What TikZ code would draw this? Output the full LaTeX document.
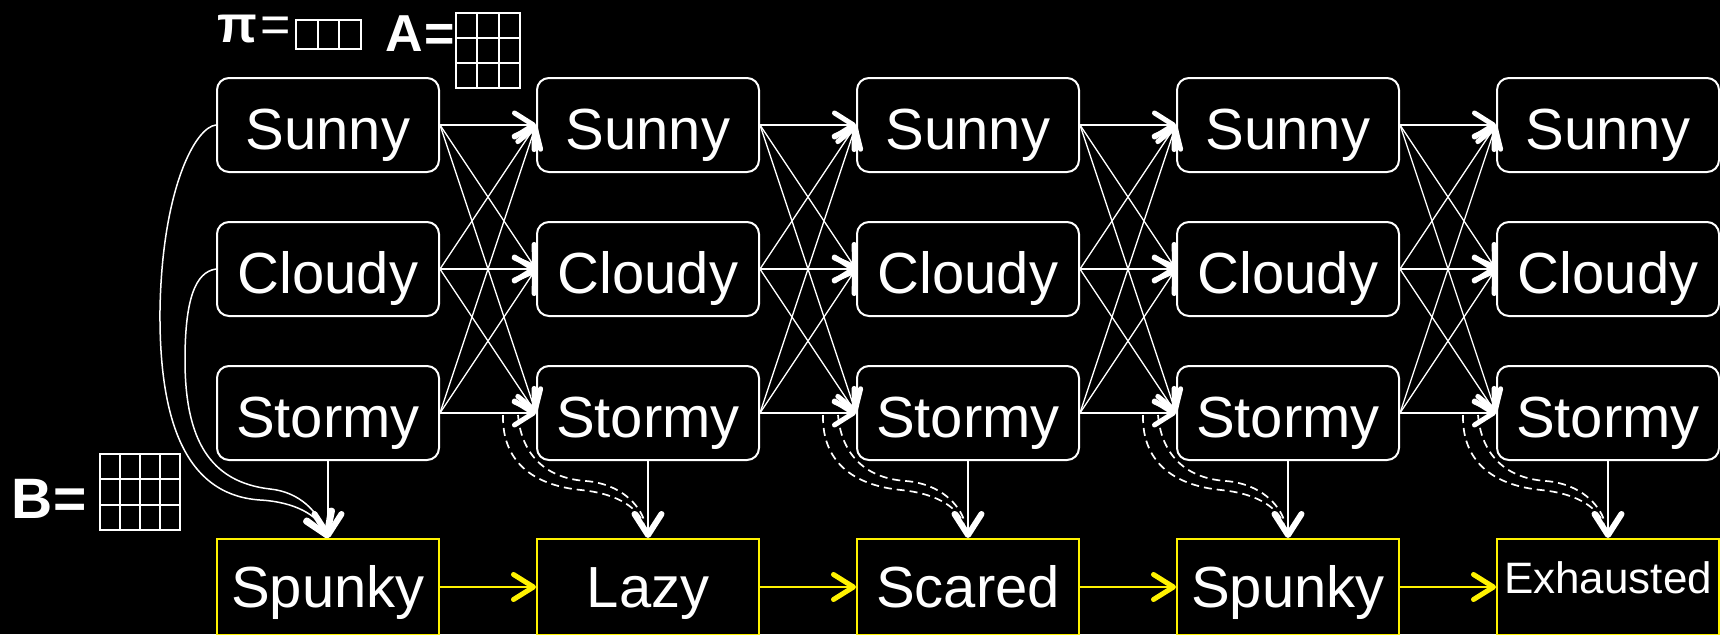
\documentclass[tikz,border=0pt]{standalone}
\usepackage{fontspec}
\setmainfont{Liberation Sans}
\usetikzlibrary{arrows.meta}
\begin{document}
\begin{tikzpicture}[x=1pt,y=-1pt,
  wbarb/.tip={Straight Barb[length=19pt,width=24pt,line width=5pt,round]},
  ebarb/.tip={Straight Barb[length=21pt,width=27pt,line width=6pt,round]},
  state/.style={draw=white, line width=2pt, rounded corners=12pt, minimum width=222pt,
    minimum height=94pt, inner sep=0pt, text=white, font=\fontsize{58}{60}\selectfont,
    text height=50pt, text depth=2pt},
  obs/.style={draw=yellow, line width=2pt, minimum width=222pt, minimum height=96pt,
    inner sep=0pt, text=white, font=\fontsize{58}{60}\selectfont,
    text height=44pt, text depth=4pt},
  obssmall/.style={obs, font=\fontsize{44}{46}\selectfont, text height=36pt, text depth=24pt},
  trans/.style={draw=white, line width=1.3pt, -wbarb},
  emit/.style={draw=white, line width=1.5pt, -ebarb},
  curv/.style={draw=white, line width=1.5pt, -ebarb},
  dashcurve/.style={draw=white, line width=1.7pt, dash pattern=on 8pt off 5pt},
  yarr/.style={draw=yellow, line width=1.8pt, -{Straight Barb[length=20pt,width=25pt,line width=5pt,round]}},
  lab/.style={text=white, inner sep=0pt, anchor=base, font=\bfseries\fontsize{52}{54}\selectfont},
  gridline/.style={draw=white, line width=2pt}
]
\useasboundingbox (0,0) rectangle (1720,634);
\fill[black] (0,0) rectangle (1720,634);
\clip (0,0) rectangle (1720,634);

% state and observation nodes
\foreach \i/\x in {1/328,2/648,3/968,4/1288,5/1608}{
  \node[state] (s\i) at (\x,125) {Sunny};
  \node[state] (c\i) at (\x,269) {Cloudy};
  \node[state] (t\i) at (\x,413) {Stormy};
}
\node[obs] (o1) at (328,587) {Spunky};
\node[obs] (o2) at (648,587) {Lazy};
\node[obs] (o3) at (968,587) {Scared};
\node[obs] (o4) at (1288,587) {Spunky};
\node[obssmall] (o5) at (1608,587) {Exhausted};

% transitions
\foreach \i/\j in {1/2,2/3,3/4,4/5}{
  \foreach \a in {s,c,t}{
    \foreach \b in {s,c,t}{
      \draw[trans] (\a\i.east) -- (\b\j.west);
    }
  }
  \draw[yarr] (o\i.east) -- (o\j.west);
}

% emissions
\foreach \i in {1,...,5}{
  \draw[emit] (t\i.south) -- (o\i.north);
}

% curved emissions from first column
\draw[curv] (s1.west) .. controls (195,127) and (162,190) .. (160,310)
  .. controls (159,420) and (185,495) .. (260,500)
  .. controls (295,502) and (318,515) .. (o1.north);
\draw[curv] (c1.west) .. controls (195,272) and (185,300) .. (185,360)
  .. controls (185,440) and (210,482) .. (270,489)
  .. controls (300,492) and (318,512) .. (o1.north);

% dashed curves
\foreach \j in {2,...,5}{
  \begin{scope}[shift={(t\j.west)}]
    \draw[dashcurve] (-33,2) .. controls (-34,47) and (-5,72) .. (45,77)
      .. controls (85,81) and (103,97) .. (108,112);
    \draw[dashcurve] (-18,2) .. controls (-15,37) and (5,65) .. (50,68)
      .. controls (85,71) and (103,92) .. (108,107);
  \end{scope}
}

% parameter labels
\node[lab] (pi) at (237.5,43) {π};
\node[lab, font=\fontsize{52}{54}\selectfont] (pieq) at (276,43) {=};
\draw[gridline] (296,20) rectangle (361,49);
\draw[gridline] (317.7,20) -- (317.7,49);
\draw[gridline] (339.3,20) -- (339.3,49);

\node[lab] (A) at (404,52) {A};
\node[lab] (Aeq) at (440,52) {=};
\draw[gridline] (456,13) rectangle (520,88);
\foreach \gx in {477.3,498.7}{\draw[gridline] (\gx,13) -- (\gx,88);}
\foreach \gy in {38,63}{\draw[gridline] (456,\gy) -- (520,\gy);}

\node[lab, font=\bfseries\fontsize{57}{59}\selectfont] (B) at (32.5,518) {B};
\node[lab, font=\bfseries\fontsize{57}{59}\selectfont] (Beq) at (70.5,518) {=};
\draw[gridline] (99.5,454) rectangle (179.5,530);
\foreach \gx in {119.5,139.5,159.5}{\draw[gridline] (\gx,454) -- (\gx,530);}
\foreach \gy in {479.3,504.7}{\draw[gridline] (99.5,\gy) -- (179.5,\gy);}
\end{tikzpicture}
\end{document}
